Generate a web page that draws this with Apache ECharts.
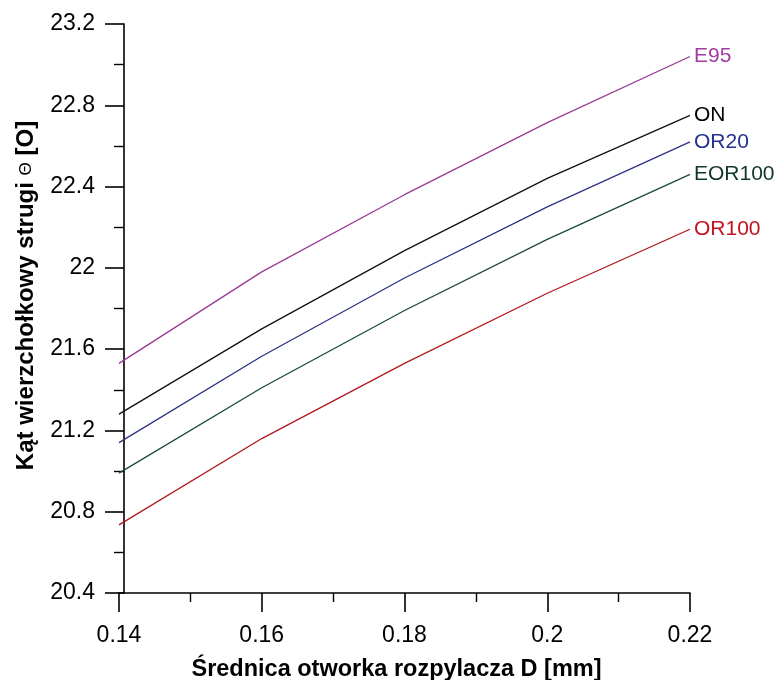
<!DOCTYPE html>
<html>
<head>
<meta charset="utf-8">
<script src="https://cdn.jsdelivr.net/npm/echarts@6/dist/echarts.min.js"></script>
<style>
html,body{margin:0;padding:0;background:#fff;}
#chart{width:781px;height:680px;}
</style>
</head>
<body>
<div id="chart"></div>
<script>
// Data
const diameters = [0.14, 0.16, 0.18, 0.2, 0.22];
const seriesNames = ['E95', 'ON', 'OR20', 'EOR100', 'OR100'];
const e95 = [21.53, 21.98, 22.36, 22.715, 23.04];
const on = [21.28, 21.70, 22.085, 22.44, 22.75];
const or20 = [21.14, 21.565, 21.95, 22.30, 22.62];
const eor100 = [20.99, 21.41, 21.79, 22.14, 22.46];
const or100 = [20.735, 21.16, 21.53, 21.875, 22.19];
const lineColors = ['#9a3a96', '#111111', '#2a3282', '#1c4a33', '#b01820'];
const labelColors = ['#a23ca2', '#000000', '#25308e', '#12362a', '#c0141e'];

const values = [e95, on, or20, eor100, or100];
const FONT = '"Liberation Sans", Arial, sans-serif';

const chart = echarts.init(document.getElementById('chart'));
const series = seriesNames.map((name, i) => ({
  name: name,
  type: 'line',
  data: diameters.map((d, j) => [d, values[i][j]]),
  showSymbol: false,
  symbol: 'none',
  lineStyle: { color: lineColors[i], width: 1.3 },
  itemStyle: { color: lineColors[i] },
  endLabel: {
    show: true,
    formatter: '{a}',
    color: labelColors[i],
    fontFamily: FONT,
    fontSize: 21,
    distance: 4
  },
  emphasis: { disabled: true },
  animation: false
}));

chart.setOption({
  backgroundColor: '#ffffff',
  animation: false,
  grid: { left: 119, right: 91, top: 24, bottom: 87, containLabel: false, outerBoundsMode: 'none' },
  xAxis: {
    type: 'value',
    min: 0.14, max: 0.22, interval: 0.02,
    name: 'Średnica otworka rozpylacza D [mm]',
    nameLocation: 'middle',
    nameGap: 65,
    nameTextStyle: { fontFamily: FONT, fontSize: 23.5, fontWeight: 'bold', color: '#000', padding: [0, 16, 0, 0] },
    axisLine: { show: true, onZero: false, lineStyle: { color: '#000', width: 1.6 } },
    axisTick: { show: true, inside: false, length: 19, lineStyle: { color: '#000', width: 1.6 } },
    minorTick: { show: true, splitNumber: 2, length: 9, lineStyle: { color: '#000', width: 1.4 } },
    axisLabel: {
      margin: 31, fontFamily: FONT, fontSize: 23, color: '#000',
      formatter: v => String(Math.round(v * 100) / 100)
    },
    splitLine: { show: false }
  },
  yAxis: {
    type: 'value',
    min: 20.4, max: 23.2, interval: 0.4,
    offset: -5,
    name: '{b|Kąt wierzchołkowy strugi }{t|Θ}{b| [O]}',
    nameLocation: 'middle',
    nameGap: 86,
    nameRotate: 90,
    nameTextStyle: {
      padding: [0, 0, 0, 26],
      rich: {
        b: { fontFamily: FONT, fontSize: 24, fontWeight: 'bold', color: '#000' },
        t: { fontFamily: FONT, fontSize: 17, color: '#000' }
      }
    },
    axisLine: { show: true, onZero: false, lineStyle: { color: '#000', width: 1.6 } },
    axisTick: { show: true, inside: false, length: 19, lineStyle: { color: '#000', width: 1.6 } },
    minorTick: { show: true, splitNumber: 2, length: 10, lineStyle: { color: '#000', width: 1.4 } },
    axisLabel: {
      margin: 29, fontFamily: FONT, fontSize: 23, color: '#000',
      formatter: v => String(Math.round(v * 10) / 10)
    },
    splitLine: { show: false }
  },
  series: series
});
</script>
</body>
</html>
